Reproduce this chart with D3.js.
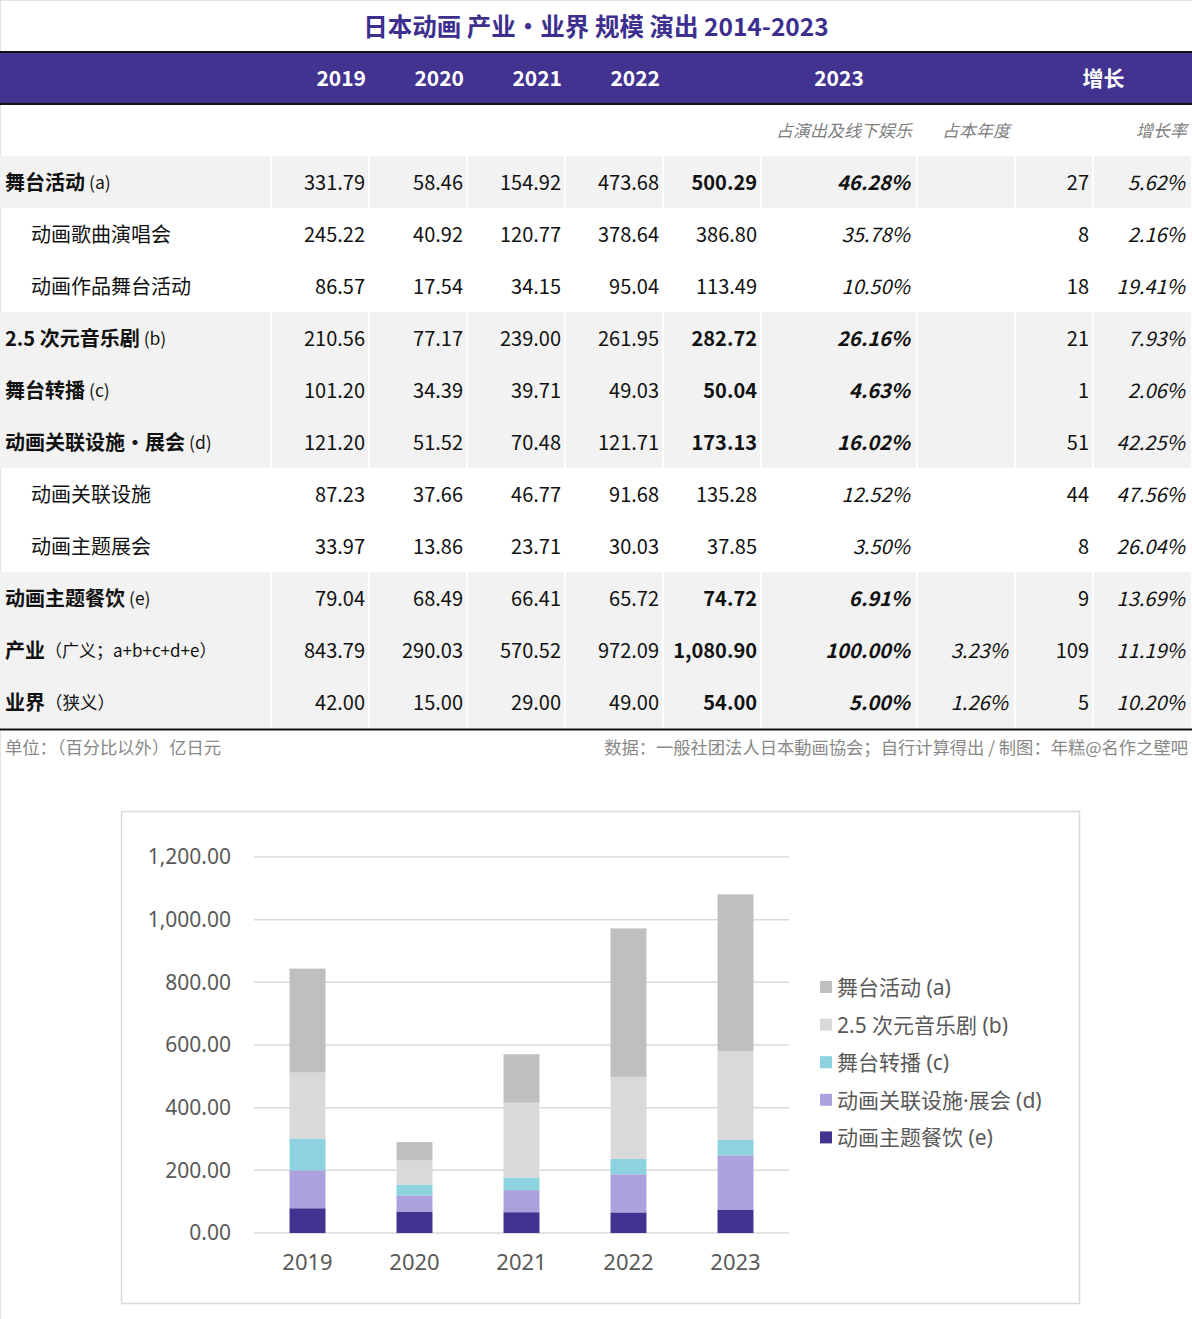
<!DOCTYPE html>
<html>
<head>
<meta charset="utf-8">
<script src="https://cdn.jsdelivr.net/npm/d3@7"></script>
<style>
  body { margin: 0; background: #fff; }
  svg text { font-family: "Noto Sans CJK SC", "Noto Sans", sans-serif; }
  svg .plot text { font-family: "Noto Sans", "Noto Sans CJK SC", sans-serif; }
</style>
</head>
<body>
<svg id="chart" width="1192" height="1319"></svg>
<script>
// table data
var years = ["2019", "2020", "2021", "2022", "2023"];
var rowLabels = ["舞台活动", "动画歌曲演唱会", "动画作品舞台活动", "2.5 次元音乐剧", "舞台转播",
    "动画关联设施・展会", "动画关联设施", "动画主题展会", "动画主题餐饮", "产业", "业界"];
var rowNotes = ["(a)", "", "", "(b)", "(c)", "(d)", "", "", "(e)", "（广义；a+b+c+d+e）", "（狭义）"];
var rowIsMain = [true, false, false, true, true, true, false, false, true, true, true];
var v2019 = [331.79, 245.22, 86.57, 210.56, 101.20, 121.20, 87.23, 33.97, 79.04, 843.79, 42.00];
var v2020 = [58.46, 40.92, 17.54, 77.17, 34.39, 51.52, 37.66, 13.86, 68.49, 290.03, 15.00];
var v2021 = [154.92, 120.77, 34.15, 239.00, 39.71, 70.48, 46.77, 23.71, 66.41, 570.52, 29.00];
var v2022 = [473.68, 378.64, 95.04, 261.95, 49.03, 121.71, 91.68, 30.03, 65.72, 972.09, 49.00];
var v2023 = [500.29, 386.80, 113.49, 282.72, 50.04, 173.13, 135.28, 37.85, 74.72, 1080.90, 54.00];
var share2023 = [46.28, 35.78, 10.50, 26.16, 4.63, 16.02, 12.52, 3.50, 6.91, 100.00, 5.00];
var shareYear = [null, null, null, null, null, null, null, null, null, 3.23, 1.26];
var growthAbs = [27, 8, 18, 21, 1, 51, 44, 8, 9, 109, 5];
var growthRate = [5.62, 2.16, 19.41, 7.93, 2.06, 42.25, 47.56, 26.04, 13.69, 11.19, 10.20];

// chart data (stack order bottom -> top: e, d, c, b, a)
var seriesKeys = ["e", "d", "c", "b", "a"];
var legendKeys = ["a", "b", "c", "d", "e"];
var seriesNames = {
    a: "舞台活动 (a)",
    b: "2.5 次元音乐剧 (b)",
    c: "舞台转播 (c)",
    d: "动画关联设施·展会 (d)",
    e: "动画主题餐饮 (e)"
};
var seriesA = [331.79, 58.46, 154.92, 473.68, 500.29];
var seriesB = [210.56, 77.17, 239.00, 261.95, 282.72];
var seriesC = [101.20, 34.39, 39.71, 49.03, 50.04];
var seriesD = [121.20, 51.52, 70.48, 121.71, 173.13];
var seriesE = [79.04, 68.49, 66.41, 65.72, 74.72];
var yTicks = [0, 200, 400, 600, 800, 1000, 1200];

var seriesColors = { a: "#bfbfbf", b: "#d9d9d9", c: "#8dd3df", d: "#aba1dc", e: "#41338f" };

var svg = d3.select("#chart");
var purple = "#41338f";

// page edge lines
svg.append("line").attr("x1", 0.5).attr("x2", 0.5).attr("y1", 0).attr("y2", 1319)
    .attr("stroke", "#e3e3e3");
svg.append("line").attr("x1", 0).attr("x2", 1192).attr("y1", 0.5).attr("y2", 0.5)
    .attr("stroke", "#e3e3e3");

// title
svg.append("text")
    .attr("x", 596).attr("y", 25)
    .attr("text-anchor", "middle").attr("dominant-baseline", "central")
    .style("font-size", "24.5px").style("font-weight", "bold")
    .style("fill", "#3d2f8e")
    .text("日本动画 产业・业界 规模 演出 2014-2023");

// header band
svg.append("rect").attr("x", 0).attr("y", 52).attr("width", 1192).attr("height", 52)
    .attr("fill", purple);
svg.append("line").attr("x1", 0).attr("x2", 1192).attr("y1", 52).attr("y2", 52)
    .attr("stroke", "#111").attr("stroke-width", 2);
svg.append("line").attr("x1", 0).attr("x2", 1192).attr("y1", 104).attr("y2", 104)
    .attr("stroke", "#111").attr("stroke-width", 2);

var colEdges = [0, 271, 369, 467, 565, 663, 761, 917, 1015, 1093, 1192];

var header = svg.append("g").attr("class", "header")
    .style("fill", "#fff").style("font-weight", "bold").style("font-size", "21px");
years.slice(0, 4).forEach(function(y, i) {
    header.append("text")
        .attr("x", colEdges[i + 2] - 3).attr("y", 77)
        .attr("text-anchor", "end").attr("dominant-baseline", "central")
        .text(y);
});
header.append("text").attr("x", (colEdges[5] + colEdges[8]) / 2).attr("y", 77)
    .attr("text-anchor", "middle").attr("dominant-baseline", "central").text("2023");
header.append("text").attr("x", (colEdges[8] + colEdges[10]) / 2).attr("y", 77)
    .attr("text-anchor", "middle").attr("dominant-baseline", "central").text("增长");

// sub header
var sub = svg.append("g").style("fill", "#7f7f7f").style("font-size", "17px")
    .style("font-style", "italic");
[["占演出及线下娱乐", 7], ["占本年度", 8], ["增长率", 10]].forEach(function(s) {
    sub.append("text")
        .attr("x", colEdges[s[1]] - 5).attr("y", 129)
        .attr("text-anchor", "end").attr("dominant-baseline", "central")
        .text(s[0]);
});

// body rows
var rowY = d3.scaleBand().domain(d3.range(rowLabels.length)).range([156, 728]);

var rows = svg.selectAll("g.row")
    .data(rowLabels)
    .enter().append("g")
    .attr("class", "row")
    .attr("transform", (d, i) => "translate(0," + rowY(i) + ")");

rows.each(function(label, i) {
    var g = d3.select(this);
    var h = rowY.bandwidth();
    var cy = h / 2 - 1;
    if (rowIsMain[i]) {
        for (var c = 0; c < colEdges.length - 1; c++) {
            g.append("rect")
                .attr("x", colEdges[c] + (c === 0 ? 0 : 1))
                .attr("width", colEdges[c + 1] - colEdges[c] - (c === 0 ? 1 : 2))
                .attr("y", 0).attr("height", h)
                .attr("fill", "#f2f2f2");
        }
    }

    var lab = g.append("text")
        .attr("x", rowIsMain[i] ? 5 : 31).attr("y", cy)
        .attr("dominant-baseline", "central")
        .style("fill", "#111");
    lab.append("tspan")
        .style("font-size", "20px")
        .style("font-weight", rowIsMain[i] ? "bold" : "normal")
        .text(label);
    if (rowNotes[i]) {
        lab.append("tspan")
            .style("font-size", rowNotes[i].length > 4 ? "17px" : "17.5px")
            .attr("dx", rowNotes[i].charAt(0) === "(" ? 4 : 0)
            .text(rowNotes[i]);
    }

    var fmt = d3.format(",.2f");
    var cells = [
        { v: fmt(v2019[i]), col: 2, bold: false, italic: false },
        { v: fmt(v2020[i]), col: 3, bold: false, italic: false },
        { v: fmt(v2021[i]), col: 4, bold: false, italic: false },
        { v: fmt(v2022[i]), col: 5, bold: false, italic: false },
        { v: fmt(v2023[i]), col: 6, bold: rowIsMain[i], italic: false },
        { v: share2023[i].toFixed(2) + "%", col: 7, bold: rowIsMain[i], italic: true },
        { v: shareYear[i] == null ? "" : shareYear[i].toFixed(2) + "%", col: 8, bold: false, italic: true },
        { v: String(growthAbs[i]), col: 9, bold: false, italic: false },
        { v: growthRate[i].toFixed(2) + "%", col: 10, bold: false, italic: true }
    ];
    cells.forEach(function(cell) {
        if (!cell.v) return;
        g.append("text")
            .attr("x", colEdges[cell.col] - (cell.italic ? 7 : 4))
            .attr("y", cy)
            .attr("text-anchor", "end").attr("dominant-baseline", "central")
            .style("font-size", "20px")
            .style("font-weight", cell.bold ? "bold" : "normal")
            .style("font-style", cell.italic ? "italic" : "normal")
            .style("fill", "#111")
            .text(cell.v);
    });
});

svg.append("line").attr("x1", 0).attr("x2", 1192).attr("y1", 729.5).attr("y2", 729.5)
    .attr("stroke", "#111").attr("stroke-width", 2);

// footer notes
svg.append("text").attr("x", 5).attr("y", 746)
    .attr("dominant-baseline", "central")
    .style("font-size", "17.3px").style("fill", "#888")
    .text("单位：（百分比以外）亿日元");
svg.append("text").attr("x", 1188).attr("y", 746)
    .attr("text-anchor", "end").attr("dominant-baseline", "central")
    .style("font-size", "17.3px").style("fill", "#888")
    .text("数据：一般社团法人日本動画協会；自行计算得出 / 制图：年糕@名作之壁吧");

// ---- stacked bar chart ----
var plot = svg.append("g").attr("class", "plot");

plot.append("rect")
    .attr("x", 121.5).attr("y", 811.5).attr("width", 958).attr("height", 492)
    .attr("fill", "#fff").attr("stroke", "#d9d9d9").attr("stroke-width", 1.5);

var x = d3.scaleBand().domain(years).range([254, 789])
    .paddingInner(0.664).paddingOuter(0.332);
var y = d3.scaleLinear().domain([0, 1200]).range([1233, 857]);

var chartRows = years.map(function(yr, i) {
    return { year: yr, a: seriesA[i], b: seriesB[i], c: seriesC[i], d: seriesD[i], e: seriesE[i] };
});
var stacked = d3.stack().keys(seriesKeys)(chartRows);

// grid
plot.append("g").selectAll("line")
    .data(yTicks)
    .enter().append("line")
    .attr("x1", 254).attr("x2", 789)
    .attr("y1", (d) => y(d)).attr("y2", (d) => y(d))
    .attr("stroke", "#d9d9d9").attr("stroke-width", 1.5);

var yAxis = plot.append("g")
    .attr("transform", "translate(234,0)")
    .call(d3.axisLeft(y).tickValues(yTicks).tickFormat(d3.format(",.2f")).tickSize(0));
yAxis.select(".domain").remove();
yAxis.selectAll("text")
    .style("font-size", "21px").style("fill", "#595959")
    .style("font-family", "\"Noto Sans\", sans-serif");

plot.append("g").selectAll("g")
    .data(stacked)
    .enter().append("g")
    .attr("fill", (s) => seriesColors[s.key])
    .selectAll("rect")
    .data((s) => s)
    .enter().append("rect")
    .attr("x", (d) => x(d.data.year))
    .attr("width", x.bandwidth())
    .attr("y", (d) => y(d[1]))
    .attr("height", (d) => y(d[0]) - y(d[1]));

var xAxis = plot.append("g")
    .attr("transform", "translate(0,1251)")
    .call(d3.axisBottom(x).tickSize(0));
xAxis.select(".domain").remove();
xAxis.selectAll("text")
    .style("font-size", "22px").style("fill", "#595959")
    .style("font-family", "\"Noto Sans\", sans-serif");

// legend
var legend = plot.append("g").selectAll("g")
    .data(legendKeys)
    .enter().append("g")
    .attr("transform", (d, i) => "translate(820," + (987 + i * 37.6) + ")");
legend.append("rect")
    .attr("x", 0).attr("y", -6).attr("width", 12).attr("height", 12)
    .attr("fill", (d) => seriesColors[d]);
legend.append("text")
    .attr("x", 17).attr("y", 0)
    .attr("dominant-baseline", "central")
    .style("font-size", "21px").style("fill", "#595959")
    .text((d) => seriesNames[d]);
</script>
</body>
</html>
